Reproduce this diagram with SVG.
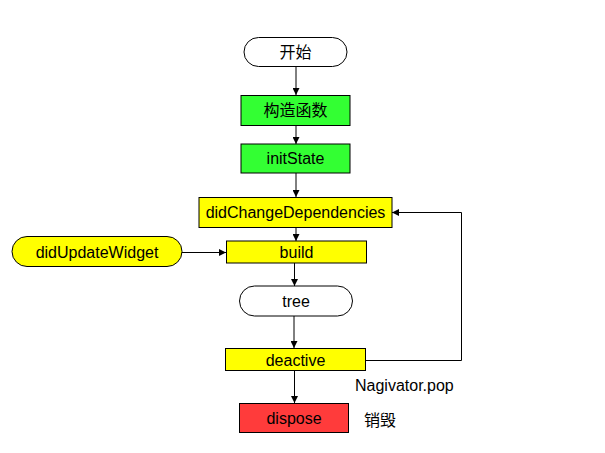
<svg xmlns="http://www.w3.org/2000/svg" width="605" height="453" viewBox="0 0 605 453">
<style>
text{font-family:"Liberation Sans",Arial,"Noto Sans CJK SC",sans-serif;font-size:16px;fill:#000;text-anchor:middle}
.pill{fill:#fff;stroke:#000;stroke-width:1}
.g{fill:#33ff33;stroke:#000;stroke-width:1}
.y{fill:#ffff00;stroke:#000;stroke-width:1}
.r{fill:#ff3b3b;stroke:#000;stroke-width:1}
.c{fill:none;stroke:#000;stroke-width:1;marker-end:url(#ah)}
.lbl{text-anchor:start}
</style>
<defs>
<marker id="ah" viewBox="0 0 10 10" refX="10" refY="5" markerWidth="9" markerHeight="7" markerUnits="userSpaceOnUse" orient="auto">
<path d="M0,0 L10,5 L0,10 Z" fill="#000"/>
</marker>
</defs>
<rect width="605" height="453" fill="#fff"/>
<g id="connectors">
<line class="c" x1="296" y1="67" x2="296" y2="95"/>
<line class="c" x1="296" y1="125" x2="296" y2="144"/>
<line class="c" x1="296" y1="173" x2="296" y2="197"/>
<line class="c" x1="296" y1="227" x2="296" y2="241"/>
<line class="c" x1="294.5" y1="263" x2="294.5" y2="286"/>
<line class="c" x1="294" y1="316" x2="294" y2="348"/>
<line class="c" x1="294.5" y1="371" x2="294.5" y2="403"/>
<line class="c" x1="182" y1="252.5" x2="226" y2="252.5"/>
<polyline class="c" points="366,360.5 461.5,360.5 461.5,212.5 392,212.5"/>
</g>
<g id="start"><rect class="pill" x="244" y="37.5" width="103" height="29" rx="14.5"/><text x="295.5" y="57.5">开始</text></g>
<g id="constructor"><rect class="g" x="241" y="95.5" width="109" height="30"/><text x="295.5" y="116">构造函数</text></g>
<g id="initState"><rect class="g" x="241" y="144" width="109" height="29"/><text x="295.5" y="164">initState</text></g>
<g id="didChangeDependencies"><rect class="y" x="199" y="197.5" width="193" height="30"/><text x="295.5" y="218">didChangeDependencies</text></g>
<g id="didUpdateWidget"><rect class="y" x="12" y="236.5" width="170" height="30" rx="15"/><text x="97" y="257.5">didUpdateWidget</text></g>
<g id="build"><rect class="y" x="226.5" y="241" width="140" height="22"/><text x="296.5" y="257.5">build</text></g>
<g id="tree"><rect class="pill" x="239.5" y="286" width="113" height="30" rx="15"/><text x="296" y="306.5">tree</text></g>
<g id="deactive"><rect class="y" x="225.5" y="348.5" width="140" height="22"/><text x="295.5" y="365.5">deactive</text></g>
<g id="dispose"><rect class="r" x="239.5" y="403.5" width="109" height="29"/><text x="294" y="424">dispose</text></g>
<text class="lbl" x="355" y="391">Nagivator.pop</text>
<text class="lbl" x="364" y="426">销毁</text>
</svg>
